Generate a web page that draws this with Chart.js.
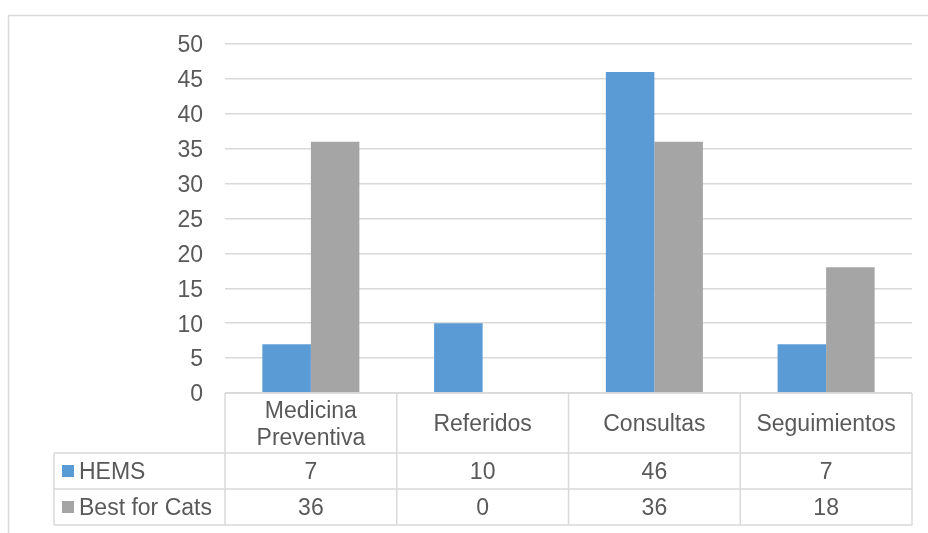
<!DOCTYPE html>
<html>
<head>
<meta charset="utf-8">
<script src="https://cdn.jsdelivr.net/npm/chart.js@4/dist/chart.umd.min.js"></script>
<style>
  html, body { margin: 0; padding: 0; background: #fff; }
  #wrap { width: 928px; height: 533px; }
</style>
</head>
<body>
<div id="wrap"><canvas id="servChart" width="928" height="533"></canvas></div>
<script>
const categories = [["Medicina", "Preventiva"], "Referidos", "Consultas", "Seguimientos"];
const hems = [7, 10, 46, 7];
const bestForCats = [36, 0, 36, 18];
const seriesNames = ["HEMS", "Best for Cats"];
const seriesColors = ["#5B9BD5", "#A5A5A5"];

const FONT = '"Liberation Sans", Arial, sans-serif';
const TEXT = "#595959";
const LINE = "#D9D9D9";

// frame around the chart + data table under the plot
const dataTable = {
  id: "dataTable",
  beforeDraw(chart) {
    const ctx = chart.ctx;
    ctx.save();
    ctx.strokeStyle = LINE;
    ctx.lineWidth = 1.5;
    ctx.beginPath();
    ctx.moveTo(8.5, 533);
    ctx.lineTo(8.5, 15.5);
    ctx.lineTo(928, 15.5);
    ctx.stroke();
    ctx.restore();
  },
  afterDraw(chart) {
    const ctx = chart.ctx;
    const area = chart.chartArea;
    const xs = chart.scales.x;
    const n = categories.length;
    const colW = (area.right - area.left) / n;
    const top = area.bottom;
    const row1 = top + 60;
    const row2 = row1 + 36;
    const row3 = row2 + 36;
    const legendLeft = 54;

    ctx.save();
    ctx.strokeStyle = LINE;
    ctx.lineWidth = 1.5;
    ctx.beginPath();
    ctx.moveTo(area.left, top); ctx.lineTo(area.right, top);
    [row1, row2, row3].forEach(y => { ctx.moveTo(legendLeft, y); ctx.lineTo(area.right, y); });
    for (let i = 0; i <= n; i++) {
      const x = area.left + i * colW;
      ctx.moveTo(x, top); ctx.lineTo(x, row3);
    }
    ctx.moveTo(legendLeft, row1); ctx.lineTo(legendLeft, row3);
    ctx.stroke();

    ctx.fillStyle = TEXT;
    ctx.font = "23px " + FONT;
    ctx.textAlign = "center";
    ctx.textBaseline = "middle";
    categories.forEach((c, i) => {
      const cx = xs.getPixelForValue(i);
      const lines = Array.isArray(c) ? c : [c];
      const mid = (top + row1) / 2 + 2;
      lines.forEach((t, k) => {
        ctx.fillText(t, cx, mid + (k - (lines.length - 1) / 2) * 27);
      });
    });

    const rows = [[hems, row1, row2], [bestForCats, row2, row3]];
    rows.forEach(([vals, y0, y1], s) => {
      const cy = (y0 + y1) / 2;
      ctx.fillStyle = seriesColors[s];
      ctx.fillRect(62, cy - 6, 12, 12);
      ctx.fillStyle = TEXT;
      ctx.textAlign = "left";
      ctx.fillText(seriesNames[s], 79, cy + 1.5);
      ctx.textAlign = "center";
      vals.forEach((v, i) => ctx.fillText(String(v), xs.getPixelForValue(i), cy + 1.5));
    });
    ctx.restore();
  }
};

new Chart(document.getElementById("servChart"), {
  type: "bar",
  data: {
    labels: categories,
    datasets: [
      { label: seriesNames[0], data: hems, backgroundColor: seriesColors[0] },
      { label: seriesNames[1], data: bestForCats, backgroundColor: seriesColors[1] }
    ]
  },
  options: {
    responsive: false,
    animation: false,
    layout: { padding: { top: 44, right: 16, bottom: 140, left: 0 } },
    datasets: { bar: { categoryPercentage: 0.565, barPercentage: 1 } },
    plugins: { legend: { display: false }, tooltip: { enabled: false } },
    scales: {
      x: { display: false },
      y: {
        min: 0,
        max: 50,
        afterFit: s => { s.width = 225; },
        border: { display: false },
        grid: { color: LINE, lineWidth: 1.5, drawTicks: false },
        ticks: { stepSize: 5, padding: 22, labelOffset: 2, color: TEXT, font: { family: FONT, size: 23 } }
      }
    }
  },
  plugins: [dataTable]
});
</script>
</body>
</html>
